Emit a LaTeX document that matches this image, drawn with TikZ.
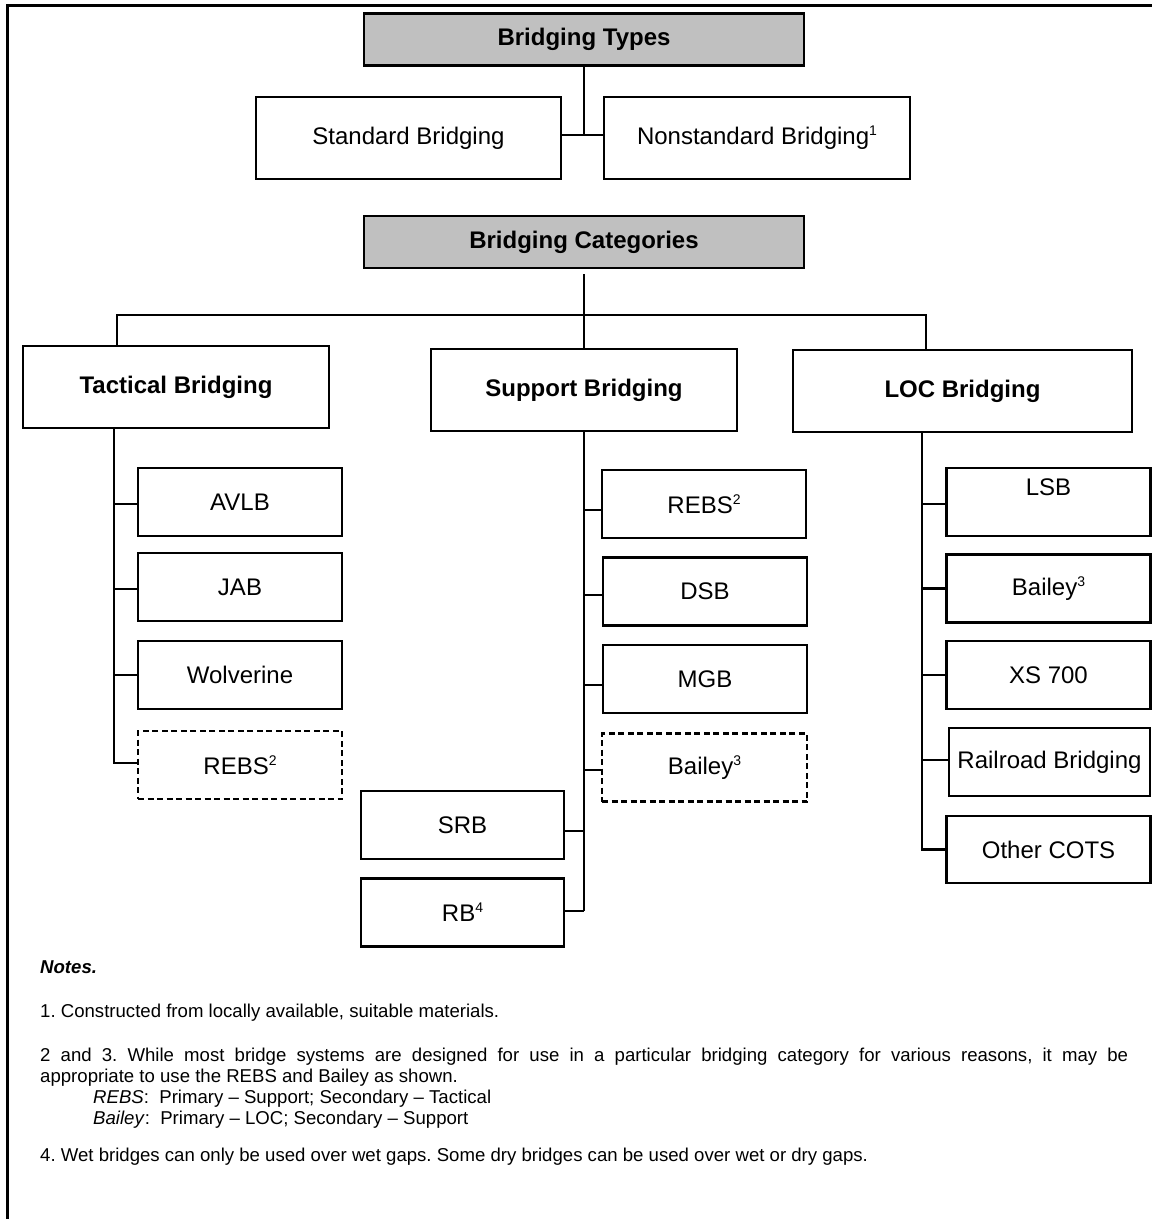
\documentclass[tikz,border=0pt]{standalone}
\usepackage{fontspec}
\setmainfont{Liberation Sans}
\usetikzlibrary{calc}
\definecolor{headgray}{RGB}{192,192,192}
% small raised footnote number
\newcommand\supnum[1]{\raisebox{9pt}{\fontsize{14}{14}\selectfont #1}}
\frenchspacing

\begin{document}
\begin{tikzpicture}[x=1pt,y=-1pt,
  box/.style={draw, line width=2.6pt, inner sep=0pt,
    font=\fontsize{24}{28}\selectfont, minimum width=204pt, minimum height=68pt},
  altbox/.style={box, line width=2.4pt, dash pattern=on 6pt off 3.5pt},
  typebox/.style={box, minimum width=305pt, minimum height=82pt},
  catbox/.style={box, minimum width=306pt, minimum height=82pt,
    font=\fontsize{24}{28}\selectfont\bfseries},
  headbox/.style={box, fill=headgray, minimum width=440pt, minimum height=52pt,
    font=\fontsize{24}{28}\selectfont\bfseries},
  lbl/.style={inner sep=0pt, font=\fontsize{24}{28}\selectfont},
  link/.style={line width=2.6pt},
  note/.style={anchor=base west, inner sep=0pt, font=\fontsize{18.6}{21}\selectfont}
]
\useasboundingbox (0,0) rectangle (1152,1219);

% outer frame
\coordinate (fbl) at (7,1221);
\coordinate (ftl) at (7,5);
\coordinate (ftr) at (1154,5);
\draw[line width=3pt] (fbl) -- (ftl) -- (ftr);

% bridging types
\node[headbox] (types) at (584,39.5) {Bridging Types};
\node[typebox] (std) at (408.5,138) {Standard Bridging};
\node[typebox, minimum width=306pt] (nstd) at (757,138) {Nonstandard Bridging\supnum{1}};
\coordinate (tj) at (584,135);
\draw[link] (types.south) -- (tj);
\draw[link] (std.east |- tj) -- (nstd.west |- tj);

% bridging categories
\node[headbox] (cats) at (584,242) {Bridging Categories};
\node[catbox] (tac) at (176,387) {Tactical Bridging};
\node[catbox] (sup) at (584,390) {Support Bridging};
\node[catbox, minimum width=339pt] (loc) at (962.5,391) {LOC Bridging};

\coordinate (busL) at (117,315);
\coordinate (busR) at (926,315);
\draw[link] ($(cats.south)+(0,5)$) -- (sup.north);
\draw[link] (tac.north -| busL) -- (busL) -- (busR) -- (loc.north -| busR);

% tactical systems
\node[box] (avlb) at (240,502) {AVLB};
\node[box] (jab) at (240,587) {JAB};
\node[box] (wolv) at (240,675) {Wolverine};
\node[altbox] (rebsT) at (240,765) {REBS\supnum{2}};
\coordinate (tsp) at (114,430);
\draw[link] (tac.south -| tsp) |- ([yshift=2pt]rebsT.west);
\draw[link] ([yshift=-2pt]avlb.west) -- ([yshift=-2pt]avlb.west -| tsp);
\draw[link] ([yshift=-2pt]jab.west) -- ([yshift=-2pt]jab.west -| tsp);
\draw[link] (wolv.west) -- (wolv.west -| tsp);

% support systems
\node[box] (rebsS) at (704,504) {REBS\supnum{2}};
\node[box] (dsb) at (705,591.5) {DSB};
\node[box] (mgb) at (705,679) {MGB};
\node[altbox, minimum width=205pt] (baileyS) at (704.5,767.5) {Bailey\supnum{3}};
\node[box, minimum width=203pt] (srb) at (462.5,825) {SRB};
\node[box, minimum width=203pt] (rb) at (462.5,912.5) {RB\supnum{4}};
\draw[link] (sup.south) -- ([yshift=1.5pt]sup.south |- rb.east);
\draw[link] ([yshift=-6pt]rebsS.west) -- ([yshift=-6pt]rebsS.west -| sup.south);
\draw[link] ([yshift=-3.5pt]dsb.west) -- ([yshift=-3.5pt]dsb.west -| sup.south);
\draw[link] ([yshift=-6pt]mgb.west) -- ([yshift=-6pt]mgb.west -| sup.south);
\draw[link] ([yshift=-2.5pt]baileyS.west) -- ([yshift=-2.5pt]baileyS.west -| sup.south);
\draw[link] ([yshift=-6pt]srb.east) -- ([yshift=-6pt]srb.east -| sup.south);
\draw[link] ([yshift=1.5pt]rb.east) -- ([yshift=1.5pt]rb.east -| sup.south);

% line of communication systems
\node[box] (lsb) at (1048.5,502) {};
\node[lbl] (lsbt) at (1048.5,487) {LSB};
\node[box] (baileyL) at (1048.5,588.5) {Bailey\supnum{3}};
\node[box] (xs) at (1048.5,675) {XS 700};
\node[box, minimum width=201pt] (rail) at (1049.5,762) {Railroad Bridging};
\node[box, minimum height=67pt] (cots) at (1048.5,849.5) {Other COTS};
\coordinate (lsp) at (922,440);
\draw[link] (loc.south -| lsp) |- (cots.west);
\draw[link] ([yshift=-2pt]lsb.west) -- ([yshift=-2pt]lsb.west -| lsp);
\draw[link] (baileyL.west) -- (baileyL.west -| lsp);
\draw[link] (xs.west) -- (xs.west -| lsp);
\draw[link] ([yshift=2pt]rail.west) -- ([yshift=2pt]rail.west -| lsp);

% notes
\node[note] (nhead) at (40,973) {\bfseries\itshape Notes.};
\node[note] (n1) at (40,1017) {1. Constructed from locally available, suitable materials.};
\node[note] (n2a) at (40,1061) {\makebox[1088pt][s]{2 and 3. While most bridge systems are designed for use in a particular bridging category for various reasons, it may be}};
\node[note] (n2b) at (40,1082) {appropriate to use the REBS and Bailey as shown.};
\node[note] (n2c) at (93,1103) {\textit{REBS}:\ \ Primary – Support; Secondary – Tactical};
\node[note] (n2d) at (93,1124) {\textit{Bailey}:\ \ Primary – LOC; Secondary – Support};
\node[note] (n4) at (40,1161) {4. Wet bridges can only be used over wet gaps. Some dry bridges can be used over wet or dry gaps.};
\end{tikzpicture}
\end{document}
